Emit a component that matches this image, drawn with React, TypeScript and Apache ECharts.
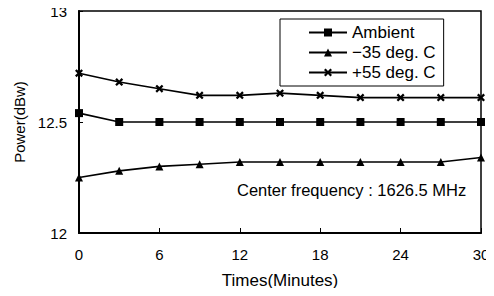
import React, { useEffect, useRef } from "react";
import * as echarts from "echarts";

const minutes = [0, 3, 6, 9, 12, 15, 18, 21, 24, 27, 30];
const ambient = [12.54, 12.5, 12.5, 12.5, 12.5, 12.5, 12.5, 12.5, 12.5, 12.5, 12.5];
const minus35 = [12.25, 12.28, 12.3, 12.31, 12.32, 12.32, 12.32, 12.32, 12.32, 12.32, 12.34];
const plus55 = [12.72, 12.68, 12.65, 12.62, 12.62, 12.63, 12.62, 12.61, 12.61, 12.61, 12.61];
const seriesNames = ["Ambient", "\u221235 deg. C", "+55 deg. C"];
const yTickLabels: Record<string, string> = { "12": "12", "12.5": "12.5", "13": "13" };
const noteText = "Center frequency : 1626.5 MHz";

const crossPath =
  "path://M2,0L5,3L8,0L10,2L7,5L10,8L8,10L5,7L2,10L0,8L3,5L0,2Z";

export default function App() {
  const ref = useRef<HTMLDivElement>(null);
  useEffect(() => {
    if (!ref.current) return;
    const chart = echarts.init(ref.current, undefined, { renderer: "svg" });
    const font = "Liberation Sans, Arial, sans-serif";
    const mk = (name: string, vals: number[], symbol: string, size: number) => ({
      name,
      type: "line",
      data: minutes.map((m, i) => [m, vals[i]]),
      symbol,
      symbolSize: size,
      lineStyle: { color: "#000", width: 1.6 },
      itemStyle: { color: "#000" },
    });
    chart.setOption({
      animation: false,
      backgroundColor: "#fff",
      textStyle: { fontFamily: font },
      grid: { left: 79, right: 13, top: 11, bottom: 63 },
      legend: {
        orient: "vertical",
        left: 280,
        top: 19,
        width: 188,
        padding: [5, 8, 5, 28],
        itemGap: 3,
        itemWidth: 38,
        itemHeight: 10,
        borderColor: "#000",
        borderWidth: 1,
        backgroundColor: "#fff",
        textStyle: { fontSize: 17, color: "#000", fontFamily: font },
        data: seriesNames,
      },
      xAxis: {
        type: "value",
        min: 0,
        max: 30,
        interval: 6,
        name: "Times(Minutes)",
        nameLocation: "middle",
        nameGap: 39,
        nameTextStyle: { fontSize: 17, color: "#000" },
        axisLine: { lineStyle: { color: "#000", width: 2 } },
        axisTick: { inside: true, length: 5, lineStyle: { color: "#000" } },
        axisLabel: { fontSize: 15, color: "#000", margin: 14 },
        splitLine: { show: false },
      },
      yAxis: {
        type: "value",
        min: 12,
        max: 13,
        interval: 0.5,
        name: "Power(dBw)",
        nameLocation: "middle",
        nameGap: 50,
        nameTextStyle: { fontSize: 15, color: "#000" },
        axisLine: { show: true, lineStyle: { color: "#000", width: 2 } },
        axisTick: { inside: true, length: 4, lineStyle: { color: "#000" } },
        axisLabel: {
          fontSize: 15,
          color: "#000",
          margin: 12,
          formatter: (v: number) => yTickLabels[String(v)] ?? String(v),
        },
        splitLine: { show: false },
      },
      graphic: [
        {
          type: "rect",
          shape: { x: 79, y: 11, width: 402, height: 222 },
          style: { fill: "none", stroke: "#000", lineWidth: 1.5 },
          silent: true,
          z: 0,
        },
        {
          type: "text",
          left: 237,
          top: 181,
          style: { text: noteText, fontSize: 16.5, fill: "#000", fontFamily: font },
        },
      ],
      series: [
        mk(seriesNames[0], ambient, "rect", 8),
        mk(seriesNames[1], minus35, "triangle", 8),
        mk(seriesNames[2], plus55, crossPath, 8),
      ],
    });
    return () => chart.dispose();
  }, []);
  return <div ref={ref} style={{ width: 494, height: 296, margin: -8 }} />;
}
